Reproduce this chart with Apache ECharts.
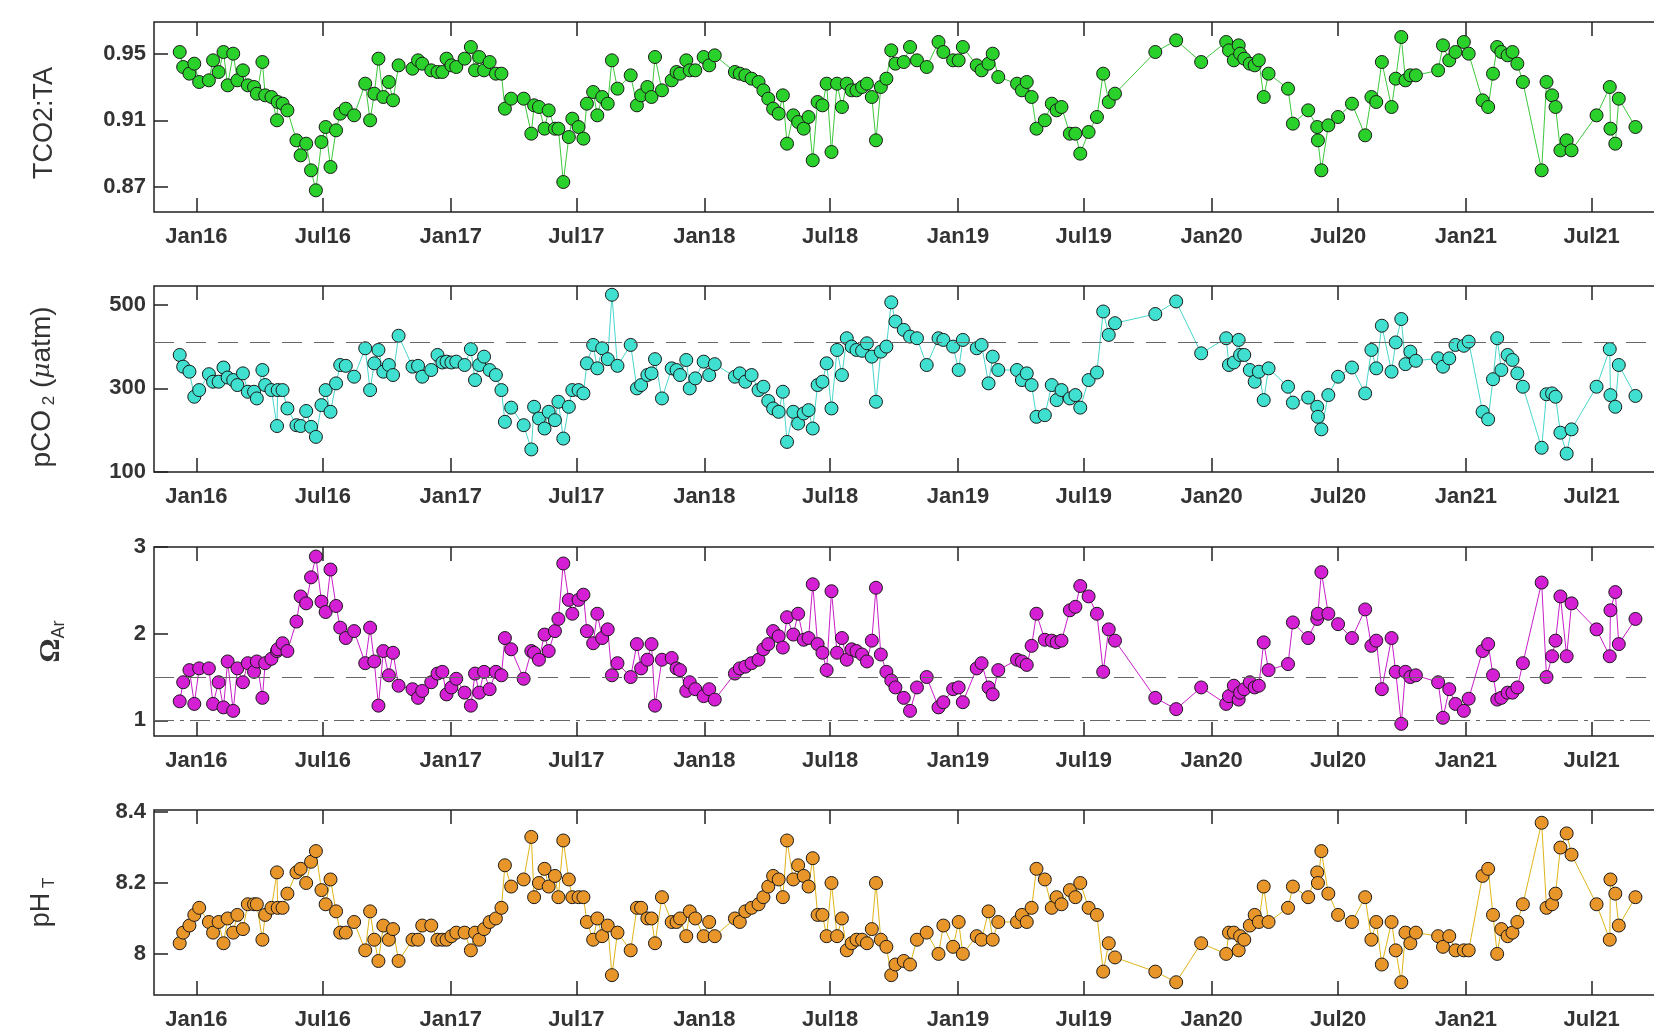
<!DOCTYPE html>
<html><head><meta charset="utf-8">
<script src="https://cdn.jsdelivr.net/npm/echarts@6/dist/echarts.min.js"></script>
<style>html,body{margin:0;padding:0;background:#fff;overflow:hidden;width:1654px;height:1031px}#c{width:1700px;height:1031px}</style>
</head><body><div id="c"></div>
<script>
const sampleDates = [
'2015-12-08','2015-12-13','2015-12-22','2015-12-29','2016-01-05','2016-01-19','2016-01-25','2016-02-02','2016-02-09','2016-02-15',
'2016-02-23','2016-02-29','2016-03-08','2016-03-15','2016-03-24','2016-03-28','2016-04-05','2016-04-09','2016-04-18','2016-04-26',
'2016-04-27','2016-05-04','2016-05-11','2016-05-24','2016-05-30','2016-06-07','2016-06-14','2016-06-21','2016-06-29','2016-07-05',
'2016-07-12','2016-07-20','2016-07-26','2016-08-03','2016-08-15','2016-08-31','2016-09-07','2016-09-13','2016-09-19','2016-09-26',
'2016-10-04','2016-10-10','2016-10-18','2016-11-07','2016-11-15','2016-11-21','2016-12-04','2016-12-13','2016-12-20','2016-12-26',
'2017-01-02','2017-01-09','2017-01-21','2017-01-30','2017-02-05','2017-02-11','2017-02-18','2017-02-26','2017-03-07','2017-03-15',
'2017-03-20','2017-03-29','2017-04-16','2017-04-27','2017-05-01','2017-05-08','2017-05-16','2017-05-22','2017-05-31','2017-06-05',
'2017-06-12','2017-06-20','2017-06-25','2017-07-04','2017-07-11','2017-07-16','2017-07-25','2017-07-31','2017-08-07','2017-08-15',
'2017-08-21','2017-08-29','2017-09-17','2017-09-26','2017-10-02','2017-10-11','2017-10-17','2017-10-22',
'2017-11-01','2017-11-15','2017-11-22','2017-11-27','2017-12-06','2017-12-11','2017-12-19','2017-12-31','2018-01-08','2018-01-16',
'2018-02-14','2018-02-21','2018-03-01','2018-03-10','2018-03-20','2018-03-27','2018-04-03','2018-04-10','2018-04-18','2018-04-24',
'2018-04-30','2018-05-09','2018-05-16','2018-05-24','2018-05-31','2018-06-06','2018-06-13','2018-06-20','2018-06-26','2018-07-03',
'2018-07-11','2018-07-18','2018-07-25','2018-08-01','2018-08-08','2018-08-16','2018-08-23','2018-08-30','2018-09-05','2018-09-12',
'2018-09-20','2018-09-27','2018-10-03','2018-10-15','2018-10-24','2018-11-03','2018-11-17','2018-12-04','2018-12-11','2018-12-25',
'2019-01-02','2019-01-08','2019-01-28','2019-02-04','2019-02-14','2019-02-20','2019-02-28','2019-03-27','2019-04-03','2019-04-10',
'2019-04-17','2019-04-24','2019-05-06','2019-05-16','2019-05-23','2019-05-30','2019-06-11','2019-06-19','2019-06-26','2019-07-08',
'2019-07-20','2019-07-29','2019-08-06','2019-08-15','2019-10-12',
'2019-11-11','2019-12-17','2020-01-22','2020-01-26','2020-02-02','2020-02-09','2020-02-11','2020-02-17','2020-02-25','2020-03-03',
'2020-03-09','2020-03-16','2020-03-23','2020-04-20','2020-04-27','2020-05-19','2020-06-01','2020-06-02','2020-06-07','2020-06-17',
'2020-07-01','2020-07-21','2020-08-09','2020-08-18','2020-08-25','2020-09-02','2020-09-16','2020-09-22','2020-09-30','2020-10-06',
'2020-10-13','2020-10-21','2020-11-22','2020-11-29','2020-12-08','2020-12-17','2020-12-29','2021-01-05','2021-01-25','2021-02-02',
'2021-02-09','2021-02-15','2021-02-21','2021-03-02','2021-03-09','2021-03-16','2021-03-24','2021-04-20','2021-04-27','2021-05-05',
'2021-05-10','2021-05-17','2021-05-26','2021-06-02','2021-07-08','2021-07-27','2021-07-28','2021-08-04','2021-08-09','2021-09-02'
];
const tco2ta = [
0.951,0.942,0.938,0.944,0.933,0.934,0.946,0.939,0.951,0.931,
0.950,0.934,0.940,0.931,0.930,0.926,0.945,0.925,0.924,0.910,
0.921,0.920,0.916,0.898,0.889,0.896,0.880,0.868,0.897,0.906,
0.882,0.904,0.914,0.917,0.913,0.932,0.910,0.926,0.947,0.924,
0.933,0.922,0.943,0.941,0.946,0.944,0.940,0.939,0.939,0.947,
0.943,0.942,0.947,0.954,0.940,0.948,0.940,0.945,0.938,0.938,
0.917,0.923,0.923,0.902,0.919,0.918,0.905,0.916,0.905,0.905,
0.873,0.900,0.911,0.906,0.899,0.920,0.927,0.913,0.924,0.920,
0.946,0.929,0.937,0.919,0.925,0.930,0.924,0.948,
0.928,0.934,0.939,0.938,0.946,0.940,0.940,0.948,0.943,0.949,
0.939,0.938,0.937,0.935,0.933,0.928,0.923,0.917,0.914,0.925,
0.896,0.913,0.909,0.905,0.912,0.886,0.921,0.919,0.932,0.891,
0.932,0.918,0.932,0.928,0.928,0.930,0.932,0.924,0.898,0.930,
0.935,0.952,0.944,0.945,0.954,0.946,0.942,0.957,0.951,0.946,
0.946,0.954,0.943,0.940,0.944,0.950,0.936,0.932,0.928,0.933,
0.924,0.905,0.910,0.920,0.916,0.918,0.902,0.902,0.890,0.903,
0.912,0.938,0.921,0.926,0.951,
0.958,0.945,0.957,0.952,0.946,0.955,0.950,0.947,0.944,0.943,
0.946,0.924,0.938,0.929,0.908,0.916,0.906,0.898,0.880,0.907,
0.912,0.920,0.901,0.924,0.921,0.945,0.918,0.935,0.960,0.934,
0.937,0.937,0.940,0.955,0.946,0.951,0.957,0.950,0.922,0.918,
0.938,0.954,0.951,0.949,0.951,0.944,0.933,0.880,0.933,0.925,
0.918,0.892,0.898,0.892,0.913,0.930,0.905,0.896,0.923,0.906
];
const pco2 = [
380,352,340,280,296,334,316,316,350,326,
320,308,336,292,292,276,344,308,296,210,
296,296,252,212,210,246,208,184,260,296,
244,312,356,354,328,396,296,360,392,340,
356,332,426,352,354,328,344,380,362,364,
362,364,356,394,320,356,376,344,332,296,
220,254,212,154,256,228,204,244,224,268,
180,256,296,296,288,360,404,348,396,370,
524,354,404,300,308,332,336,370,
276,348,344,332,368,300,324,364,332,358,
328,336,316,332,296,304,270,252,244,292,
172,244,216,240,248,204,308,316,360,252,
392,332,420,400,392,390,408,376,268,388,
400,506,460,440,424,420,356,420,416,400,
344,416,396,404,312,376,344,344,320,336,
308,232,236,308,272,296,276,284,254,320,
338,484,428,456,478,
508,384,420,356,362,416,380,380,344,316,
340,272,348,304,266,278,256,232,202,284,
328,350,288,392,348,450,340,410,466,358,
388,366,372,352,372,404,402,412,244,226,
322,420,344,380,368,336,304,158,286,288,
280,194,144,202,304,394,284,256,356,282
];
const omegaAr = [
1.22,1.44,1.58,1.19,1.60,1.60,1.19,1.44,1.15,1.68,
1.11,1.60,1.44,1.66,1.56,1.68,1.26,1.66,1.71,1.80,
1.82,1.89,1.80,2.14,2.43,2.35,2.65,2.89,2.37,2.25,
2.74,2.32,2.07,1.95,2.03,1.66,2.07,1.68,1.17,1.80,
1.52,1.78,1.40,1.36,1.26,1.34,1.44,1.54,1.56,1.30,
1.38,1.48,1.32,1.17,1.54,1.32,1.56,1.36,1.56,1.52,
1.95,1.82,1.48,1.80,1.78,1.70,1.99,1.80,2.03,2.17,
2.81,2.39,2.23,2.39,2.45,2.03,1.89,2.23,1.95,2.05,
1.52,1.66,1.50,1.88,1.60,1.70,1.88,1.17,
1.70,1.72,1.60,1.58,1.34,1.44,1.36,1.28,1.36,1.24,
1.54,1.60,1.62,1.66,1.70,1.82,1.88,2.03,1.97,1.84,
2.19,1.99,2.23,1.93,1.95,2.57,1.88,1.78,1.58,2.49,
1.78,1.95,1.70,1.82,1.80,1.76,1.68,1.92,2.53,1.76,
1.56,1.46,1.38,1.26,1.11,1.38,1.50,1.15,1.21,1.36,
1.38,1.21,1.60,1.66,1.38,1.30,1.58,1.70,1.68,1.64,
1.86,2.23,1.93,1.92,1.90,1.92,2.27,2.31,2.55,2.43,
2.23,1.56,2.05,1.92,1.26,
1.13,1.38,1.19,1.28,1.40,1.24,1.32,1.36,1.44,1.38,
1.40,1.90,1.58,1.65,2.13,1.95,2.17,2.23,2.71,2.23,
2.11,1.95,2.28,1.86,1.92,1.36,1.95,1.56,0.96,1.56,
1.50,1.52,1.44,1.03,1.36,1.19,1.11,1.25,1.80,1.88,
1.52,1.24,1.26,1.32,1.32,1.38,1.66,2.59,1.50,1.74,
1.92,2.43,1.74,2.35,2.05,1.74,2.27,2.48,1.88,2.17
];
const phT = [
8.03,8.06,8.08,8.11,8.13,8.09,8.06,8.09,8.03,8.10,
8.06,8.11,8.07,8.14,8.14,8.14,8.04,8.11,8.13,8.23,
8.13,8.13,8.17,8.23,8.24,8.20,8.26,8.29,8.18,8.14,
8.21,8.12,8.06,8.06,8.09,8.01,8.12,8.04,7.98,8.08,
8.04,8.07,7.98,8.04,8.04,8.08,8.08,8.04,8.04,8.04,
8.05,8.06,8.06,8.01,8.06,8.04,8.07,8.09,8.10,8.13,
8.25,8.19,8.21,8.33,8.16,8.20,8.24,8.19,8.22,8.16,
8.32,8.21,8.16,8.16,8.16,8.09,8.04,8.10,8.05,8.08,
7.94,8.06,8.01,8.13,8.13,8.10,8.10,8.03,
8.16,8.09,8.09,8.10,8.05,8.12,8.10,8.05,8.09,8.05,
8.10,8.09,8.12,8.13,8.14,8.16,8.19,8.22,8.21,8.16,
8.32,8.21,8.25,8.22,8.19,8.27,8.11,8.11,8.05,8.20,
8.05,8.10,8.01,8.03,8.04,8.04,8.03,8.07,8.20,8.04,
8.02,7.94,7.97,7.98,7.97,8.04,8.06,8.00,8.08,8.02,
8.09,8.00,8.05,8.04,8.12,8.04,8.09,8.09,8.11,8.09,
8.13,8.24,8.21,8.13,8.16,8.14,8.18,8.16,8.20,8.13,
8.11,7.95,8.03,7.99,7.95,
7.92,8.03,8.00,8.06,8.06,8.01,8.05,8.04,8.08,8.11,
8.09,8.19,8.09,8.13,8.19,8.16,8.23,8.20,8.29,8.17,
8.11,8.09,8.16,8.04,8.09,7.97,8.09,8.01,7.92,8.06,
8.03,8.06,8.05,8.02,8.05,8.01,8.01,8.01,8.22,8.24,
8.11,8.00,8.07,8.05,8.06,8.09,8.14,8.37,8.13,8.14,
8.17,8.30,8.34,8.28,8.14,8.04,8.21,8.17,8.08,8.16
];
const tickDates = ['2016-01-01','2016-07-01','2017-01-01','2017-07-01','2018-01-01','2018-07-01','2019-01-01','2019-07-01','2020-01-01','2020-07-01','2021-01-01','2021-07-01'];
const tickLabels = ['Jan16','Jul16','Jan17','Jul17','Jan18','Jul18','Jan19','Jul19','Jan20','Jul20','Jan21','Jul21'];
const axisStart = '2015-11-01';
const axisEnd = '2021-12-01';
const tco2Ticks = [0.87, 0.91, 0.95];
const pco2Ticks = [100, 300, 500];
const omegaTicks = [1, 2, 3];
const phTicks = [8, 8.2, 8.4];
const pco2Atm = 410;
const omegaDashed = 1.5;
const omegaDashDot = 1;

const P = s => echarts.number.parseDate(s).getTime();
const tickTs = tickDates.map(P);
const sampleTs = sampleDates.map(P);
const xMin = P(axisStart), xMax = P(axisEnd);
const INK = '#222';
const labelFont = {fontFamily: 'Liberation Sans', fontWeight: 'bold', fontSize: 22, color: '#333'};

const grids = [
  {left: 154, width: 1544, top: 22, height: 190},
  {left: 154, width: 1544, top: 286, height: 186},
  {left: 154, width: 1544, top: 547, height: 189},
  {left: 154, width: 1544, top: 810, height: 187}
].map(g => Object.assign(g, {show: true, borderColor: INK, borderWidth: 1.5, backgroundColor: 'transparent'}));

function tickName(v) {
  let k = 0, best = Infinity;
  tickTs.forEach((t, j) => { const d = Math.abs(t - v); if (d < best) { best = d; k = j; } });
  return tickLabels[k];
}
const xAxes = [];
grids.forEach((g, i) => {
  xAxes.push({
    type: 'value', gridIndex: i, min: xMin, max: xMax, position: 'bottom',
    axisLine: {show: false}, splitLine: {show: false},
    axisTick: {show: true, inside: true, length: 14, customValues: tickTs, lineStyle: {color: INK, width: 1.5}},
    axisLabel: Object.assign({show: true, margin: 14, customValues: tickTs, formatter: tickName}, labelFont)
  });
  xAxes.push({
    type: 'value', gridIndex: i, min: xMin, max: xMax, position: 'top',
    axisLine: {show: false}, splitLine: {show: false},
    axisTick: {show: true, inside: true, length: 14, customValues: tickTs, lineStyle: {color: INK, width: 1.5}},
    axisLabel: {show: false}
  });
});

function yAx(i, min, max, ticks, fmt, name, gap, nts) {
  return {
    type: 'value', gridIndex: i, min: min, max: max, position: 'left',
    axisLine: {show: false}, splitLine: {show: false},
    axisTick: {show: true, inside: true, length: 14, customValues: ticks, lineStyle: {color: INK, width: 1.5}},
    axisLabel: Object.assign({show: true, margin: 8, customValues: ticks, formatter: fmt}, labelFont),
    name: name, nameLocation: 'middle', nameRotate: 90, nameGap: gap, nameTextStyle: nts
  };
}
const nameBase = {fontFamily: 'Liberation Sans', fontSize: 27, color: '#333'};
const yAxes = [
  yAx(0, 0.855, 0.969, tco2Ticks, v => v.toFixed(2), 'TCO2:TA', 96, Object.assign({}, nameBase, {padding: [0, 12, 0, 0]})),
  yAx(1, 100, 545, pco2Ticks, v => String(Math.round(v)), '{a|pCO}{s| 2}{a| (}{m|μ}{a|atm)}', 96,
    Object.assign({}, nameBase, {padding: [0, 16, 0, 0], rich: {
      a: {fontFamily: 'Liberation Sans', fontSize: 28, color: '#333', lineHeight: 32},
      s: {fontFamily: 'Liberation Sans', fontSize: 17, color: '#333', lineHeight: 17, verticalAlign: 'bottom'},
      m: {fontFamily: 'DejaVu Serif', fontStyle: 'italic', fontSize: 25, color: '#333', lineHeight: 32}
    }})),
  yAx(2, 0.82, 3.0, omegaTicks, v => String(Math.round(v)), '{o|Ω}{s|Ar}', 86,
    Object.assign({}, nameBase, {rich: {
      o: {fontFamily: 'Liberation Serif', fontWeight: 'bold', fontSize: 30, color: '#333', lineHeight: 34},
      s: {fontFamily: 'Liberation Sans', fontSize: 18, color: '#333', lineHeight: 19, verticalAlign: 'bottom'}
    }})),
  yAx(3, 7.884, 8.406, phTicks, v => String(Math.round(v * 10) / 10), '{a|pH}{s| T}', 96,
    Object.assign({}, nameBase, {rich: {
      a: {fontFamily: 'Liberation Sans', fontSize: 27, color: '#333', lineHeight: 32},
      s: {fontFamily: 'Liberation Sans', fontSize: 17, color: '#333', lineHeight: 17, verticalAlign: 'bottom'}
    }}))
];

function ser(i, values, fill, line, marks) {
  const s = {
    type: 'line', xAxisIndex: i * 2, yAxisIndex: i,
    data: sampleTs.map((t, k) => [t, values[k]]),
    symbol: 'circle', symbolSize: 13, showSymbol: true,
    lineStyle: {color: line, width: 1},
    itemStyle: {color: fill, borderColor: '#1a1a1a', borderWidth: 1},
    emphasis: {disabled: true}, silent: true, animation: false, z: 3
  };
  if (marks) s.markLine = {silent: true, symbol: 'none', label: {show: false}, animation: false, data: marks};
  return s;
}
const dashed = {color: '#666', width: 1, type: [20, 12]};
const dashDot = {color: '#666', width: 1, type: [20, 6, 4, 6]};

const chart = echarts.init(document.getElementById('c'), null, {renderer: 'canvas'});
chart.setOption({
  backgroundColor: '#fff', animation: false,
  grid: grids, xAxis: xAxes, yAxis: yAxes,
  series: [
    ser(0, tco2ta, '#2bd12b', '#3cc83c'),
    ser(1, pco2, '#3fe0cf', '#48d6cc', [{yAxis: pco2Atm, lineStyle: dashed}]),
    ser(2, omegaAr, '#d41fd4', '#c81ec8', [{yAxis: omegaDashed, lineStyle: dashed}, {yAxis: omegaDashDot, lineStyle: dashDot}]),
    ser(3, phT, '#e8962a', '#e0b418')
  ]
});
</script></body></html>
